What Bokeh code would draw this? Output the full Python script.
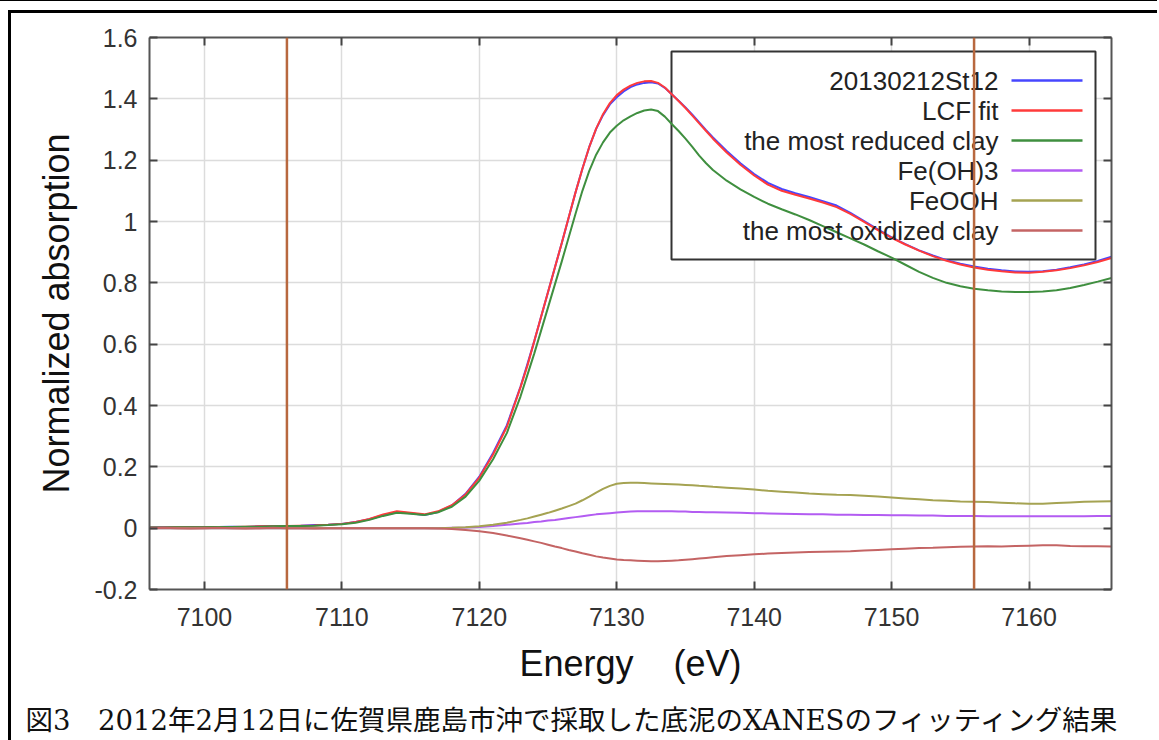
from bokeh.plotting import figure
from bokeh.layouts import column
from bokeh.models import (Range1d, FixedTicker, LinearAxis, CustomJSTickFormatter,
                          Span, Label, BoxAnnotation, Title)
from bokeh.embed import file_html
from bokeh.resources import INLINE

# ---------------- data ----------------
energy = (list(range(7096, 7124)) +
          [7123.5, 7124.0, 7124.5, 7125.0, 7125.5, 7126.0, 7126.5, 7127.0,
           7127.5, 7128.0, 7128.5, 7129.0, 7129.5, 7130.0, 7130.5, 7131.0,
           7131.5, 7132.0, 7132.5, 7133.0, 7133.5, 7134.0, 7134.5, 7135.0,
           7135.5, 7136.0, 7136.5, 7137.0] +
          list(range(7138, 7167)))

sample_20130212St12 = [
    0.002, 0.003, 0.002, 0.004, 0.003, 0.004, 0.005, 0.004, 0.006, 0.007,
    0.007, 0.008, 0.010, 0.011, 0.014, 0.020, 0.029, 0.042, 0.052, 0.049,
    0.043, 0.053, 0.074, 0.112, 0.168, 0.245, 0.335, 0.462,
    0.535, 0.610, 0.690, 0.770, 0.850, 0.930, 1.012, 1.095, 1.172, 1.243,
    1.302, 1.347, 1.382, 1.405, 1.424, 1.438, 1.447, 1.452, 1.454, 1.450,
    1.436, 1.415, 1.394, 1.372, 1.348, 1.323, 1.298, 1.274,
    1.230, 1.190, 1.155, 1.126, 1.106, 1.092, 1.080, 1.066, 1.052, 1.028,
    1.001, 0.974, 0.948, 0.926, 0.906, 0.889, 0.874, 0.862, 0.853, 0.846,
    0.841, 0.837, 0.836, 0.838, 0.843, 0.851, 0.860, 0.871, 0.885]

lcf_fit = [
    0.002, 0.002, 0.003, 0.003, 0.003, 0.004, 0.004, 0.005, 0.006, 0.006,
    0.007, 0.008, 0.009, 0.011, 0.014, 0.020, 0.030, 0.045, 0.055, 0.050,
    0.045, 0.055, 0.075, 0.110, 0.165, 0.240, 0.330, 0.460,
    0.530, 0.610, 0.690, 0.770, 0.850, 0.930, 1.013, 1.095, 1.172, 1.243,
    1.303, 1.350, 1.386, 1.412, 1.430, 1.443, 1.452, 1.457, 1.458, 1.452,
    1.437, 1.415, 1.393, 1.370, 1.345, 1.320, 1.295, 1.270,
    1.225, 1.185, 1.150, 1.120, 1.100, 1.087, 1.075, 1.062, 1.047, 1.025,
    0.999, 0.972, 0.947, 0.925, 0.905, 0.887, 0.872, 0.860, 0.850, 0.843,
    0.838, 0.834, 0.833, 0.836, 0.841, 0.848, 0.857, 0.868, 0.881]

most_reduced_clay = [
    0.002, 0.002, 0.003, 0.003, 0.003, 0.004, 0.004, 0.005, 0.005, 0.006,
    0.007, 0.007, 0.008, 0.010, 0.013, 0.018, 0.027, 0.040, 0.050, 0.047,
    0.043, 0.052, 0.070, 0.103, 0.155, 0.225, 0.310, 0.430,
    0.500, 0.570, 0.645, 0.720, 0.795, 0.870, 0.948, 1.025, 1.100, 1.165,
    1.218, 1.258, 1.290, 1.312, 1.330, 1.343, 1.354, 1.362, 1.365, 1.360,
    1.342, 1.318, 1.295, 1.270, 1.243, 1.215, 1.190, 1.168,
    1.133, 1.105, 1.080, 1.058, 1.040, 1.023, 1.005, 0.985, 0.965, 0.945,
    0.925, 0.903, 0.882, 0.859, 0.836, 0.816, 0.800, 0.789, 0.781, 0.776,
    0.772, 0.770, 0.770, 0.772, 0.776, 0.783, 0.793, 0.804, 0.816]

fe_oh3 = [
    0.000, 0.000, 0.000, 0.000, 0.000, 0.000, 0.000, 0.000, 0.000, 0.000,
    0.000, 0.000, 0.000, 0.000, 0.000, 0.000, 0.000, 0.000, 0.000, 0.000,
    0.000, 0.000, 0.001, 0.002, 0.004, 0.007, 0.011, 0.015,
    0.017, 0.020, 0.022, 0.025, 0.027, 0.030, 0.033, 0.036, 0.039, 0.042,
    0.045, 0.047, 0.049, 0.051, 0.053, 0.054, 0.055, 0.055, 0.055, 0.055,
    0.055, 0.055, 0.054, 0.054, 0.053, 0.053, 0.052, 0.052,
    0.051, 0.050, 0.049, 0.048, 0.047, 0.046, 0.045, 0.045, 0.044, 0.044,
    0.043, 0.043, 0.042, 0.042, 0.041, 0.041, 0.040, 0.040, 0.040, 0.039,
    0.039, 0.039, 0.039, 0.039, 0.039, 0.039, 0.039, 0.040, 0.040]

feooh = [
    0.000, 0.000, 0.000, 0.000, 0.000, 0.000, 0.000, 0.000, 0.000, 0.000,
    0.000, 0.000, 0.000, 0.000, 0.000, 0.000, 0.000, 0.000, 0.000, 0.000,
    0.000, 0.000, 0.001, 0.003, 0.006, 0.011, 0.018, 0.027,
    0.032, 0.038, 0.044, 0.050, 0.057, 0.064, 0.072, 0.080, 0.091, 0.103,
    0.116, 0.128, 0.138, 0.145, 0.147, 0.148, 0.148, 0.147, 0.146, 0.145,
    0.144, 0.143, 0.142, 0.141, 0.140, 0.138, 0.137, 0.135,
    0.132, 0.129, 0.126, 0.122, 0.119, 0.116, 0.113, 0.111, 0.109, 0.108,
    0.106, 0.103, 0.100, 0.097, 0.094, 0.091, 0.089, 0.087, 0.086, 0.085,
    0.083, 0.081, 0.080, 0.080, 0.082, 0.084, 0.086, 0.087, 0.088]

most_oxidized_clay = [
    0.000, 0.001, 0.000, -0.001, 0.000, 0.001, 0.000, -0.001, 0.000, 0.001,
    0.000, 0.000, -0.001, 0.000, 0.000, 0.000, 0.000, 0.000, 0.000, 0.000,
    0.000, -0.001, -0.003, -0.006, -0.010, -0.016, -0.024, -0.033,
    -0.038, -0.043, -0.048, -0.054, -0.060, -0.065, -0.071, -0.076, -0.082, -0.087,
    -0.092, -0.096, -0.099, -0.102, -0.104, -0.105, -0.106, -0.107, -0.108, -0.108,
    -0.107, -0.106, -0.105, -0.103, -0.101, -0.099, -0.097, -0.095,
    -0.091, -0.088, -0.085, -0.083, -0.081, -0.079, -0.078, -0.077, -0.076, -0.075,
    -0.073, -0.071, -0.069, -0.067, -0.065, -0.064, -0.062, -0.061, -0.060, -0.059,
    -0.060, -0.058, -0.057, -0.056, -0.056, -0.058, -0.059, -0.059, -0.060]

fit_window = [7106, 7156]

series_names = ["20130212St12", "LCF fit", "the most reduced clay",
                "Fe(OH)3", "FeOOH", "the most oxidized clay"]
series_values = [sample_20130212St12, lcf_fit, most_reduced_clay,
                 fe_oh3, feooh, most_oxidized_clay]
series_colors = ["#4646ff", "#ff3a3a", "#3f8f3f", "#b35cf2", "#a5a352", "#c46464"]

x_ticks = [7100, 7110, 7120, 7130, 7140, 7150, 7160]
y_ticks = [-0.2, 0.0, 0.2, 0.4, 0.6, 0.8, 1.0, 1.2, 1.4, 1.6]

x_label = "Energy\u00a0\u00a0\u00a0\u00a0(eV)"
y_label = "Normalized absorption"
caption = "図3　2012年2月12日に佐賀県鹿島市沖で採取した底泥のXANESのフィッティング結果"

# ---------------- figure ----------------
p = figure(frame_width=959, frame_height=549,
           x_range=Range1d(7096, 7166), y_range=Range1d(-0.2, 1.6),
           output_backend="svg", toolbar_location=None,
           min_border_left=138, min_border_right=49,
           min_border_top=24, min_border_bottom=152,
           background_fill_color="white", border_fill_color="white")
p.outline_line_color = None
p.styles = {"border-top": "3px solid black", "border-left": "3px solid black"}

bottom_ax = p.below[0]
left_ax = p.left[0]

xt = FixedTicker(ticks=x_ticks)
yt = FixedTicker(ticks=y_ticks)
bottom_ax.ticker = xt
left_ax.ticker = yt
p.xgrid.ticker = xt
p.ygrid.ticker = yt
left_ax.formatter = CustomJSTickFormatter(code="return String(Math.round(tick*10)/10)")

blank = CustomJSTickFormatter(code="return ''")
top_ax = LinearAxis(ticker=xt, formatter=blank)
right_ax = LinearAxis(ticker=yt, formatter=blank)
p.add_layout(top_ax, "above")
p.add_layout(right_ax, "right")

for ax in (bottom_ax, left_ax, top_ax, right_ax):
    ax.axis_line_color = "#555555"
    ax.axis_line_width = 2
    ax.major_tick_line_color = "#444444"
    ax.major_tick_line_width = 2
    ax.major_tick_in = 8
    ax.major_tick_out = 0
    ax.minor_tick_line_color = None
    ax.major_label_text_font = "Liberation Sans"
    ax.major_label_text_font_size = "25px"
    ax.major_label_text_color = "#333333"
top_ax.major_label_standoff = 0
right_ax.major_label_standoff = 0

bottom_ax.major_label_standoff = 18
left_ax.major_label_standoff = 12
bottom_ax.axis_label = x_label
left_ax.axis_label = y_label
for ax in (bottom_ax, left_ax):
    ax.axis_label_text_font = "Liberation Sans"
    ax.axis_label_text_font_size = "36px"
    ax.axis_label_text_font_style = "normal"
    ax.axis_label_text_color = "#111111"
bottom_ax.axis_label_standoff = 14
left_ax.axis_label_standoff = 14

for g in (p.xgrid[0], p.ygrid[0]):
    g.grid_line_color = "#dcdcdc"
    g.grid_line_width = 1.5

# legend box (opaque over grid, under curves)
p.add_layout(BoxAnnotation(left=657, right=1081, top=35, bottom=243,
                           left_units="canvas", right_units="canvas",
                           top_units="canvas", bottom_units="canvas",
                           fill_color="white", fill_alpha=1.0,
                           line_color="#333333", line_alpha=1.0, line_width=2,
                           level="underlay"))

# curves
for vals, col in zip(series_values, series_colors):
    p.line(energy, vals, line_color=col, line_width=2)

# legend entries (text right, sample on the right)
for i, (name, col) in enumerate(zip(series_names, series_colors)):
    yy = 64 + 30 * i
    p.add_layout(Label(x=984, y=yy, x_units="canvas", y_units="canvas",
                       text=name, text_align="right", text_baseline="middle",
                       text_font="Liberation Sans", text_font_size="26px",
                       text_color="#222222"))
    p.add_layout(BoxAnnotation(left=997, right=1068, top=yy - 1.2, bottom=yy + 1.2,
                               left_units="canvas", right_units="canvas",
                               top_units="canvas", bottom_units="canvas",
                               fill_color=col, fill_alpha=1.0, line_alpha=0))

# fit window markers
for loc in fit_window:
    p.add_layout(Span(location=loc, dimension="height", line_color="#b8683f",
                      line_width=2.5, level="overlay"))

# caption
p.add_layout(Title(text=caption, align="left", offset=-124, standoff=31,
                   text_font="DejaVu Serif, Noto Sans CJK JP",
                   text_font_size="27.5px", text_font_style="normal",
                   text_color="#111111"), "below")

page = column(p, styles={"border-top": "1px solid black",
                         "padding-top": "9px", "padding-left": "8px"})

open("out.html", "w").write(file_html(page, INLINE))
